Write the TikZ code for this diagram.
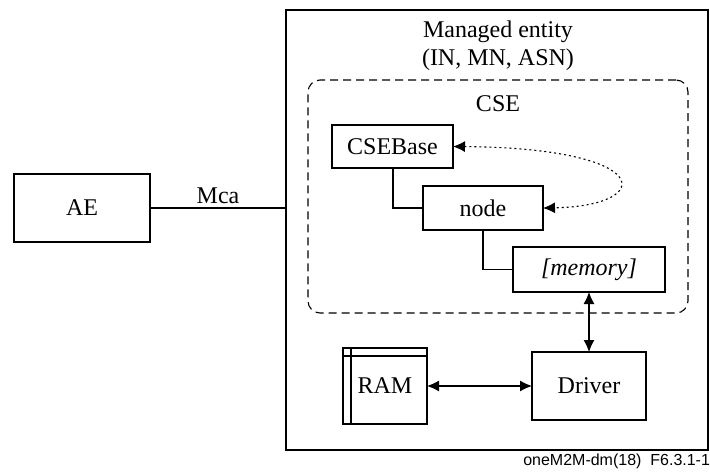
\documentclass[tikz,border=0pt]{standalone}
\usepackage{fontspec}
\setmainfont{Liberation Serif}
\newfontfamily\capfont{Liberation Sans}
\usetikzlibrary{arrows.meta}
\begin{document}
\begin{tikzpicture}[x=1pt,y=-1pt,
  line width=1.1pt,
  every node/.style={inner sep=0pt,outer sep=0pt},
  box/.style={draw,rectangle,font=\fontsize{24}{28}\selectfont},
  lbl/.style={font=\fontsize{24}{28}\selectfont,align=center},
  dtip/.style={{Latex[length=12pt,width=11pt]}-{Latex[length=12pt,width=11pt]}}]
\useasboundingbox (0,0) rectangle (710,472);

% managed entity frame
\node[draw,rectangle,minimum width=422pt,minimum height=440pt] (me) at (497,230) {};
\node[lbl] (metitle) at (498,46) {Managed entity\\(IN, MN, ASN)};

% CSE region
\node[draw,rectangle,dashed,dash pattern=on 8pt off 5pt,rounded corners=12pt,
      minimum width=380pt,minimum height=233pt] (cse) at (498,196.5) {};
\node[lbl] (cselbl) at (498,104) {CSE};

% resource tree
\node[box,minimum width=121pt,minimum height=43pt] (base) at (392.5,146.5) {CSEBase};
\node[box,minimum width=120pt,minimum height=44pt] (nd) at (483,208) {node};
\node[box,minimum width=152pt,minimum height=45pt] (mem) at (589,269.5) {\itshape [memory]};
\draw (base.south -| 393,0) |- (nd.west);
\draw (nd.south) |- (mem.west);
\draw[dtip,dash pattern=on 2pt off 3pt,line width=1.1pt]
  (base.east) .. controls (656,148) and (656,206) .. (nd.east);

% hardware
\node[box,minimum width=114pt,minimum height=68pt] (drv) at (589,386) {Driver};
\node[box,minimum width=84pt,minimum height=76pt] (ram) at (385,386) {RAM};
\draw ([xshift=8pt]ram.north west) -- ([xshift=8pt]ram.south west);
\draw ([yshift=-8pt]ram.north west) -- ([yshift=-8pt]ram.north east);
\draw[dtip] (mem.south) -- (drv.north);
\draw[dtip] (ram.east) -- (drv.west);

% application entity
\node[box,minimum width=136pt,minimum height=68pt] (ae) at (82,208) {AE};
\draw (ae.east) -- (ae.east -| me.west) node[midway,above=4pt,lbl] (mca) {Mca};

% figure tag
\node[anchor=east,font=\capfont\fontsize{16}{18}\selectfont] (tag) at (710,461) {oneM2M-dm(18)\ \ F6.3.1-1};
\end{tikzpicture}
\end{document}
